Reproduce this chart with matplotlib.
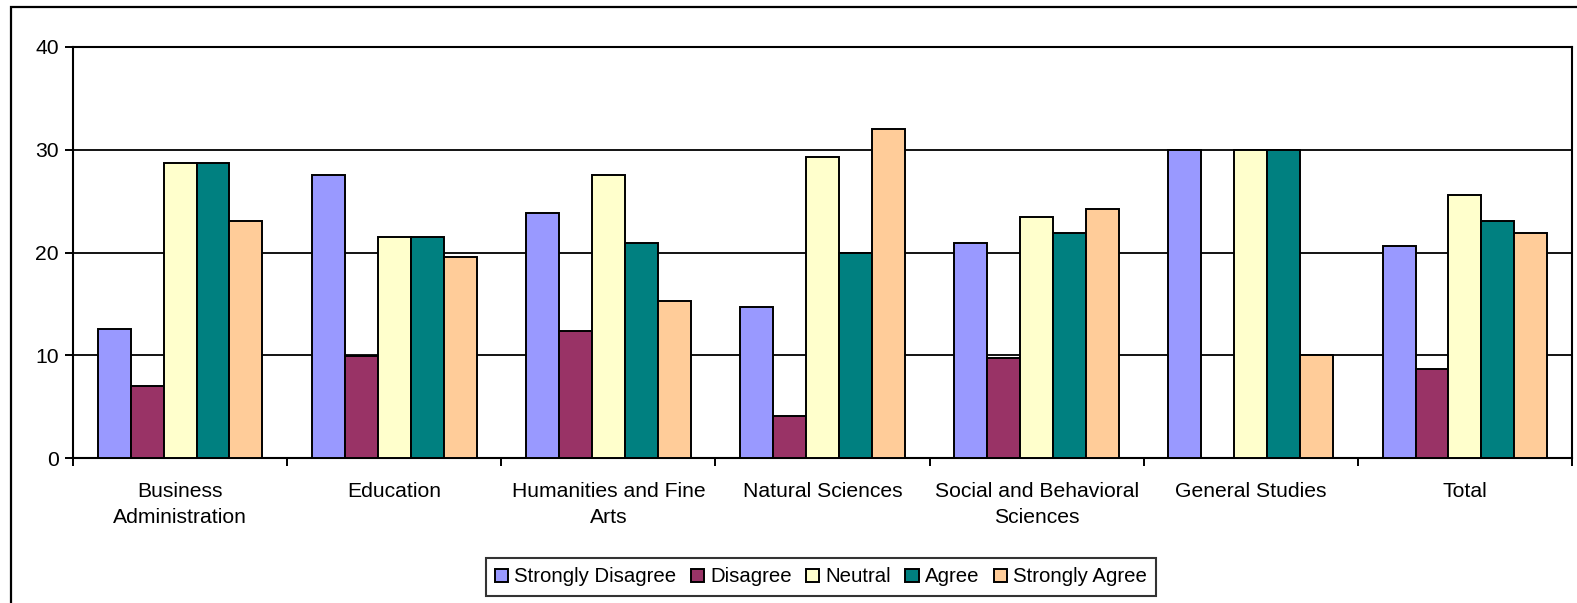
"""Grouped bar chart: agreement by college (Excel-style replica)."""

import matplotlib
matplotlib.use("Agg")
import matplotlib.pyplot as plt  # noqa: E402
import numpy as np  # noqa: E402
from matplotlib.patches import Rectangle  # noqa: E402

CATEGORIES = ["Business\nAdministration", "Education", "Humanities and Fine\nArts",
              "Natural Sciences", "Social and Behavioral\nSciences", "General Studies", "Total"]
SERIES = ["Strongly Disagree", "Disagree", "Neutral", "Agree", "Strongly Agree"]
COLORS = ["#9999FF", "#993366", "#FFFFCC", "#008080", "#FFCC99"]

strongly_disagree = [12.6, 27.5, 23.8, 14.7, 20.9, 30.0, 20.6]
disagree = [7.0, 9.9, 12.4, 4.1, 9.7, 0.0, 8.7]
neutral = [28.7, 21.5, 27.5, 29.3, 23.5, 30.0, 25.6]
agree = [28.7, 21.5, 20.9, 20.0, 21.9, 30.0, 23.1]
strongly_agree = [23.1, 19.6, 15.3, 32.0, 24.2, 10.0, 21.9]
VALUES = [strongly_disagree, disagree, neutral, agree, strongly_agree]

YTICKS = [0, 10, 20, 30, 40]

plt.rcParams.update({"font.family": ["Liberation Sans", "DejaVu Sans"], "font.size": 15.2})

W, H = 1577, 603
fig = plt.figure(figsize=(W / 100, H / 100), dpi=100)
ax = fig.add_axes([73 / W, (H - 458) / H, (1572 - 73) / W, (458 - 47) / H])

# outer chart-area border (cropped at right/bottom like the original)
fig.patches.append(Rectangle((11 / W, -0.05), 1.2, (H - 7) / H + 0.05, transform=fig.transFigure,
                             fill=False, edgecolor="black", linewidth=1.6))

x = np.arange(len(CATEGORIES))
bw = 1 / 6.5
for k, (name, vals, col) in enumerate(zip(SERIES, VALUES, COLORS)):
    ax.bar(x + (k - 2) * bw, vals, width=bw, color=col, edgecolor="black", linewidth=1.4,
           label=name, zorder=3)

ax.set_xlim(-0.5, len(CATEGORIES) - 0.5)
ax.set_ylim(0, 40)
ax.set_yticks(YTICKS)
ax.yaxis.grid(True, color="black", linewidth=1.3, zorder=0)
ax.set_axisbelow(True)

# category boundaries as ticks, labels centred in between
ax.set_xticks(np.arange(len(CATEGORIES) + 1) - 0.5)
ax.set_xticklabels([])
ax.set_xticks(x, minor=True)
ax.set_xticklabels(CATEGORIES, minor=True, linespacing=1.5)
ax.tick_params(axis="x", which="major", length=6, width=1.4, direction="out")
ax.tick_params(axis="x", which="minor", length=0, pad=17)
ax.tick_params(axis="y", length=6, width=1.4, direction="out", pad=4)
for s in ax.spines.values():
    s.set_linewidth(1.5)
    s.set_color("black")

leg = fig.legend(loc="center", bbox_to_anchor=(821 / W, (H - 577) / H), ncol=5,
                 frameon=True, fancybox=False, edgecolor="black", fontsize=14.7,
                 handlelength=0.65, handleheight=0.65, handletextpad=0.3,
                 columnspacing=0.7, borderpad=0.45, borderaxespad=0)
leg.get_frame().set_linewidth(1.5)

fig.savefig("out.png", dpi=100)
